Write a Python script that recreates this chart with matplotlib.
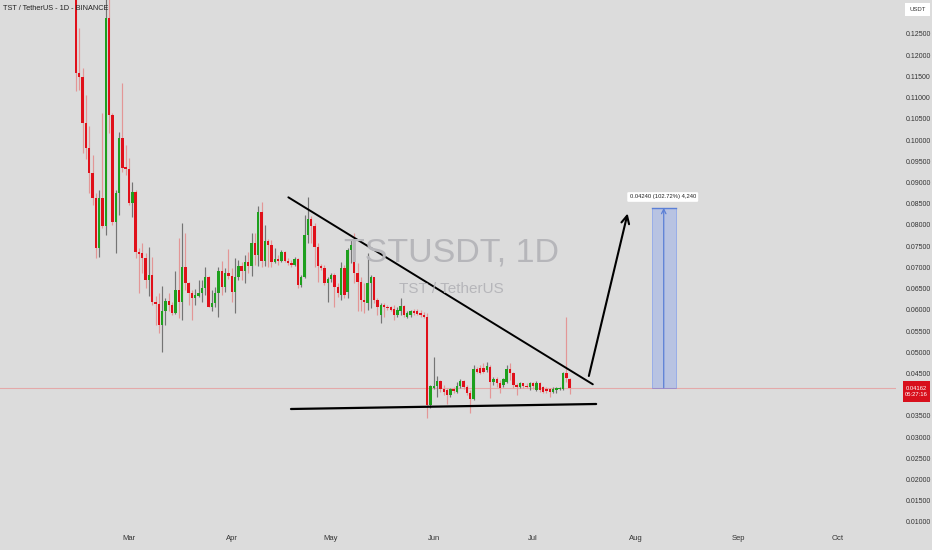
import datetime as dt
import numpy as np
import pandas as pd
import matplotlib
matplotlib.use("Agg")
import matplotlib.pyplot as plt
import matplotlib.dates as mdates
from matplotlib.patches import Rectangle

# ---------------- data ----------------
start_date = "2025-02-13"
opens = [0.1400, 0.1159, 0.1149, 0.1040, 0.0982, 0.0922, 0.0864, 0.0746, 0.0864, 0.0798,
         0.1287, 0.1059, 0.0806, 0.0875, 0.1006, 0.0937, 0.0932, 0.0852, 0.0877, 0.0737,
         0.0733, 0.0723, 0.0670, 0.0682, 0.0619, 0.0613, 0.0564, 0.0596, 0.0621, 0.0611,
         0.0592, 0.0647, 0.0619, 0.0702, 0.0662, 0.0639, 0.0627, 0.0632, 0.0639, 0.0651,
         0.0677, 0.0607, 0.0615, 0.0640, 0.0691, 0.0654, 0.0686, 0.0680, 0.0643, 0.0677,
         0.0703, 0.0691, 0.0713, 0.0703, 0.0758, 0.0729, 0.0831, 0.0716, 0.0763, 0.0753,
         0.0713, 0.0719, 0.0716, 0.0737, 0.0715, 0.0711, 0.0706, 0.0719, 0.0658, 0.0677,
         0.0776, 0.0813, 0.0797, 0.0749, 0.0703, 0.0699, 0.0662, 0.0672, 0.0682, 0.0654,
         0.0635, 0.0698, 0.0643, 0.0741, 0.0757, 0.0686, 0.0666, 0.0623, 0.0615, 0.0662,
         0.0677, 0.0623, 0.0588, 0.0611, 0.0606, 0.0606, 0.0601, 0.0588, 0.0596, 0.0609,
         0.0584, 0.0588, 0.0596, 0.0596, 0.0593, 0.0588, 0.0583, 0.0376, 0.0416, 0.0420,
         0.0432, 0.0413, 0.0411, 0.0399, 0.0413, 0.0407, 0.0420, 0.0432, 0.0417, 0.0403,
         0.0389, 0.0460, 0.0462, 0.0462, 0.0458, 0.0466, 0.0431, 0.0436, 0.0427, 0.0423,
         0.0431, 0.0460, 0.0450, 0.0423, 0.0417, 0.0427, 0.0420, 0.0417, 0.0427, 0.0411,
         0.0428, 0.0417, 0.0413, 0.0413, 0.0407, 0.0411, 0.0413, 0.0413, 0.0452, 0.0436]
highs = [0.1480, 0.1263, 0.1169, 0.1106, 0.1032, 0.0965, 0.0875, 0.0882, 0.1063, 0.1342,
         0.1340, 0.1064, 0.0882, 0.1020, 0.1134, 0.0988, 0.0957, 0.0902, 0.0882, 0.0746,
         0.0757, 0.0733, 0.0749, 0.0725, 0.0632, 0.0639, 0.0656, 0.0627, 0.0639, 0.0619,
         0.0692, 0.0769, 0.0804, 0.0780, 0.0666, 0.0647, 0.0648, 0.0670, 0.0670, 0.0700,
         0.0680, 0.0647, 0.0654, 0.0700, 0.0715, 0.0698, 0.0743, 0.0698, 0.0723, 0.0717,
         0.0713, 0.0729, 0.0737, 0.0782, 0.0780, 0.0845, 0.0855, 0.0800, 0.0768, 0.0764,
         0.0745, 0.0729, 0.0741, 0.0739, 0.0721, 0.0717, 0.0725, 0.0721, 0.0682, 0.0823,
         0.0865, 0.0821, 0.0805, 0.0757, 0.0708, 0.0706, 0.0677, 0.0686, 0.0686, 0.0662,
         0.0713, 0.0706, 0.0745, 0.0768, 0.0780, 0.0710, 0.0678, 0.0662, 0.0733, 0.0682,
         0.0678, 0.0627, 0.0615, 0.0615, 0.0611, 0.0609, 0.0611, 0.0606, 0.0627, 0.0611,
         0.0596, 0.0600, 0.0601, 0.0601, 0.0600, 0.0595, 0.0593, 0.0423, 0.0489, 0.0444,
         0.0435, 0.0423, 0.0415, 0.0415, 0.0418, 0.0431, 0.0436, 0.0435, 0.0423, 0.0411,
         0.0470, 0.0466, 0.0470, 0.0474, 0.0478, 0.0470, 0.0442, 0.0441, 0.0435, 0.0440,
         0.0470, 0.0475, 0.0454, 0.0427, 0.0431, 0.0428, 0.0427, 0.0431, 0.0429, 0.0433,
         0.0431, 0.0420, 0.0417, 0.0415, 0.0417, 0.0417, 0.0417, 0.0454, 0.0584, 0.0439]
lows = [0.1116, 0.1118, 0.0970, 0.0955, 0.0875, 0.0847, 0.0721, 0.0725, 0.0793, 0.0776,
        0.1016, 0.0800, 0.0733, 0.0823, 0.0925, 0.0918, 0.0847, 0.0819, 0.0721, 0.0640,
        0.0686, 0.0651, 0.0632, 0.0611, 0.0564, 0.0545, 0.0500, 0.0564, 0.0596, 0.0588,
        0.0590, 0.0581, 0.0576, 0.0647, 0.0611, 0.0576, 0.0611, 0.0631, 0.0619, 0.0635,
        0.0606, 0.0596, 0.0607, 0.0582, 0.0635, 0.0643, 0.0672, 0.0619, 0.0592, 0.0670,
        0.0670, 0.0664, 0.0686, 0.0680, 0.0706, 0.0703, 0.0702, 0.0703, 0.0702, 0.0702,
        0.0711, 0.0706, 0.0713, 0.0713, 0.0706, 0.0702, 0.0703, 0.0651, 0.0654, 0.0674,
        0.0757, 0.0757, 0.0702, 0.0666, 0.0694, 0.0658, 0.0619, 0.0666, 0.0607, 0.0631,
        0.0623, 0.0628, 0.0627, 0.0710, 0.0662, 0.0596, 0.0596, 0.0592, 0.0600, 0.0604,
        0.0615, 0.0588, 0.0568, 0.0584, 0.0600, 0.0596, 0.0576, 0.0584, 0.0588, 0.0584,
        0.0580, 0.0584, 0.0588, 0.0588, 0.0584, 0.0581, 0.0344, 0.0369, 0.0414, 0.0395,
        0.0407, 0.0399, 0.0378, 0.0395, 0.0405, 0.0403, 0.0415, 0.0413, 0.0399, 0.0356,
        0.0387, 0.0450, 0.0449, 0.0450, 0.0454, 0.0391, 0.0423, 0.0419, 0.0403, 0.0419,
        0.0427, 0.0435, 0.0415, 0.0399, 0.0415, 0.0415, 0.0415, 0.0411, 0.0413, 0.0409,
        0.0407, 0.0405, 0.0405, 0.0395, 0.0403, 0.0405, 0.0411, 0.0411, 0.0431, 0.0402]
closes = [0.1159, 0.1149, 0.1040, 0.0982, 0.0922, 0.0864, 0.0746, 0.0864, 0.0798, 0.1287,
          0.1059, 0.0806, 0.0875, 0.1006, 0.0935, 0.0932, 0.0852, 0.0878, 0.0737, 0.0732,
          0.0723, 0.0670, 0.0682, 0.0619, 0.0613, 0.0564, 0.0596, 0.0621, 0.0611, 0.0592,
          0.0647, 0.0619, 0.0702, 0.0662, 0.0639, 0.0627, 0.0635, 0.0640, 0.0651, 0.0677,
          0.0607, 0.0615, 0.0640, 0.0691, 0.0654, 0.0686, 0.0680, 0.0643, 0.0678, 0.0703,
          0.0691, 0.0713, 0.0703, 0.0758, 0.0729, 0.0831, 0.0716, 0.0763, 0.0753, 0.0713,
          0.0719, 0.0716, 0.0737, 0.0715, 0.0711, 0.0706, 0.0719, 0.0658, 0.0677, 0.0776,
          0.0813, 0.0797, 0.0749, 0.0703, 0.0699, 0.0662, 0.0672, 0.0682, 0.0654, 0.0639,
          0.0698, 0.0635, 0.0741, 0.0753, 0.0686, 0.0666, 0.0623, 0.0619, 0.0662, 0.0677,
          0.0623, 0.0607, 0.0611, 0.0606, 0.0604, 0.0600, 0.0588, 0.0600, 0.0609, 0.0588,
          0.0592, 0.0596, 0.0592, 0.0590, 0.0588, 0.0582, 0.0376, 0.0420, 0.0420, 0.0432,
          0.0413, 0.0407, 0.0399, 0.0413, 0.0409, 0.0420, 0.0432, 0.0417, 0.0403, 0.0389,
          0.0460, 0.0454, 0.0452, 0.0454, 0.0468, 0.0431, 0.0436, 0.0427, 0.0415, 0.0436,
          0.0460, 0.0450, 0.0423, 0.0417, 0.0427, 0.0420, 0.0417, 0.0427, 0.0420, 0.0428,
          0.0411, 0.0407, 0.0409, 0.0407, 0.0413, 0.0415, 0.0415, 0.0452, 0.0439, 0.04162]

last_price = 0.04162
countdown = "05:27:16"
target_move = 0.04240
target_label = "0.04240 (102.72%) 4,240"
# price-scale labels visible on the right (0.04000 is hidden behind the last-price tag)
price_ticks = [0.010, 0.015, 0.020, 0.025, 0.030, 0.035, 0.045, 0.050, 0.055, 0.060,
               0.065, 0.070, 0.075, 0.080, 0.085, 0.090, 0.095, 0.100, 0.105, 0.110,
               0.115, 0.120, 0.125]
month_labels = ["Mar", "Apr", "May", "Jun", "Jul", "Aug", "Sep", "Oct"]
month_starts = ["2025-03-01", "2025-04-01", "2025-05-01", "2025-06-01",
                "2025-07-01", "2025-08-01", "2025-09-01", "2025-10-01"]
title = "TST / TetherUS - 1D - BINANCE"
watermark_big = "TSTUSDT, 1D"
watermark_small = "TST / TetherUS"

# ---------------- style ----------------
BG = "#dcdcdc"
UP = "#1ea01e"
DOWN = "#e0101a"
UP_WICK = "#747474"
DOWN_WICK = "#e39696"
NARROW = ["Liberation Sans Narrow", "Liberation Sans", "DejaVu Sans"]
plt.rcParams["font.family"] = NARROW

W, H = 932, 550
fig = plt.figure(figsize=(W / 100, H / 100), dpi=100, facecolor=BG)
ax_right_px, ax_bottom_px = 896, 528
ax = fig.add_axes([0, 1 - ax_bottom_px / H, ax_right_px / W, ax_bottom_px / H])
ax.set_facecolor(BG)

dates = pd.date_range(start_date, periods=len(closes), freq="D")
x = mdates.date2num(dates.to_pydatetime())
o = np.array(opens); h = np.array(highs); l = np.array(lows); c = np.array(closes)
up = c >= o

anchor = mdates.date2num(dt.datetime(2025, 3, 1))
ppd = 3.313  # pixels per day in reference
ax.set_xlim(anchor - 129 / ppd, anchor + (ax_right_px - 129) / ppd)
ax.set_ylim(0.125 - (ax_bottom_px - 34) / 4243, 0.125 + 34 / 4243)

# watermark
fig.text(451 / W, 1 - 253 / H, watermark_big, ha="center", va="center",
         fontsize=24.5, color="#b6b6ba", zorder=0)
fig.text(451.5 / W, 1 - 289 / H, watermark_small, ha="center", va="center",
         fontsize=11, color="#b6b6ba", zorder=0)

# current price line
ax.axhline(last_price, color="#e4a9a9", lw=0.8, zorder=1)

# candles
ax.vlines(x[up], l[up], h[up], color=UP_WICK, lw=0.85, zorder=2)
ax.vlines(x[~up], l[~up], h[~up], color=DOWN_WICK, lw=0.85, zorder=2)
body_h = np.maximum(np.abs(c - o), 0.00028)
body_b = np.minimum(o, c)
ax.bar(x[up], body_h[up], bottom=body_b[up], width=0.72, color=UP, lw=0, zorder=3)
ax.bar(x[~up], body_h[~up], bottom=body_b[~up], width=0.72, color=DOWN, lw=0, zorder=3)

# drawings: descending trendline & support
ax.plot([anchor + 48.1, anchor + 140.0], [0.08651, 0.04244], color="black", lw=1.4, zorder=4,
        solid_capstyle="round")
ax.plot([anchor + 48.9, anchor + 141.0], [0.03662, 0.03780], color="black", lw=1.6, zorder=4,
        solid_capstyle="round")
# projection arrow
ax.annotate("", xy=(anchor + 150.5, 0.08270), xytext=(anchor + 138.8, 0.04440),
            arrowprops=dict(arrowstyle="->", color="black", lw=1.5, mutation_scale=14,
                            shrinkA=0, shrinkB=0), zorder=5)

# measure box
x0, x1 = anchor + 157.8, anchor + 165.0
top = last_price + target_move
ax.add_patch(Rectangle((x0, last_price), x1 - x0, target_move,
                       facecolor=(41 / 255, 98 / 255, 1.0, 0.2),
                       edgecolor=(41 / 255, 98 / 255, 1.0, 0.35), lw=0.6, zorder=2))
ax.plot([x0, x1], [top, top], color="#5b7fd6", lw=1.0, zorder=3)
ax.annotate("", xy=((x0 + x1) / 2, top), xytext=((x0 + x1) / 2, last_price),
            arrowprops=dict(arrowstyle="->", color="#5b7fd6", lw=0.9, mutation_scale=8,
                            shrinkA=0, shrinkB=0), zorder=3)
ax.text(anchor + 161.1, 0.125 - (197 - 34) / 4243, target_label, ha="center", va="center",
        fontsize=4.2, color="#222222", zorder=6,
        bbox=dict(boxstyle="round,pad=0.4,rounding_size=0.2", fc="white", ec="none"))

# axes styling
for s in ax.spines.values():
    s.set_visible(False)
ax.yaxis.tick_right()
ax.set_yticks(price_ticks)
ax.set_yticklabels([f"{t:.5f}" for t in price_ticks])
ax.tick_params(axis="y", length=0, pad=7, labelsize=5, labelcolor="#333333")
ax.set_xticks(mdates.date2num(pd.to_datetime(month_starts).to_pydatetime()))
ax.set_xticklabels(month_labels)
ax.tick_params(axis="x", length=0, pad=5, labelsize=5.5, labelcolor="#333333")

# title
fig.text(3 / W, 1 - 9 / H, title, ha="left", va="center", fontsize=5.3, color="#222222")

# USDT box
fig.patches.append(Rectangle((905 / W, 1 - 16 / H), 25 / W, 13 / H, transform=fig.transFigure,
                             facecolor="white", edgecolor="none"))
fig.text(917.5 / W, 1 - 9.5 / H, "USDT", ha="center", va="center", fontsize=4.3, color="#333333")

# last price tag (single two-line text)
fig.patches.append(Rectangle((903 / W, 1 - 402 / H), 27 / W, 21 / H, transform=fig.transFigure,
                             facecolor="#d8101c", edgecolor="none"))
fig.text(916.5 / W, 1 - 391.5 / H, f"{last_price:.5f}\n{countdown}", ha="center", va="center",
         fontsize=4.2, color="white", linespacing=1.45)

fig.savefig("out.png", dpi=100, facecolor=BG)
